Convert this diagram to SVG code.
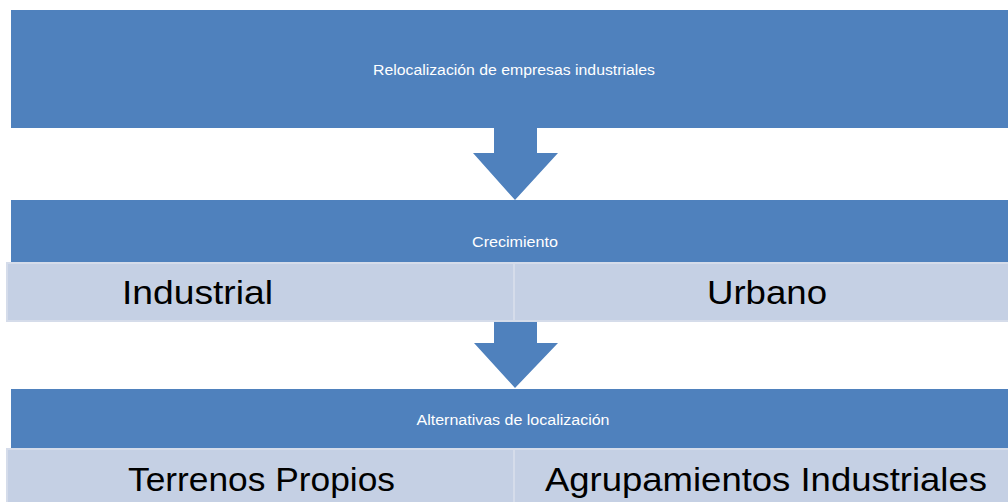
<svg xmlns="http://www.w3.org/2000/svg" width="1008" height="502" viewBox="0 0 1008 502">
<style>
.blue{fill:#4F81BD}
.cell{fill:#C5D0E4;stroke:#D5DCEA;stroke-width:2}
.t{font-family:"Liberation Sans",Arial,sans-serif;fill:#FFFFFF;font-size:14px;text-anchor:middle}
.big{font-family:"Liberation Sans",Arial,sans-serif;fill:#000000;font-size:34px}
</style>
<rect x="0" y="0" width="1008" height="502" fill="#FFFFFF"/>
<g id="relocalizacion">
<rect class="blue" x="11" y="10" width="997" height="118"/>
<text class="t" x="514" y="75" textLength="282" lengthAdjust="spacingAndGlyphs">Relocalización de empresas industriales</text>
</g>
<g id="connectors">
<path class="blue" d="M494 128 H537 V153 H558 L515 200 L473 153 H494 Z"/>
<path class="blue" d="M494 322 H537 V343 H558 L515 388 L474 343 H494 Z"/>
</g>
<g id="crecimiento">
<rect class="blue" x="11" y="200" width="997" height="62"/>
<text class="t" x="515" y="247" textLength="86" lengthAdjust="spacingAndGlyphs">Crecimiento</text>
</g>
<g id="industrial">
<rect class="cell" x="7" y="263" width="507" height="58"/>
<text class="big" x="122" y="304" textLength="151" lengthAdjust="spacingAndGlyphs">Industrial</text>
</g>
<g id="urbano">
<rect class="cell" x="514" y="263" width="496" height="58"/>
<text class="big" x="707" y="304" textLength="120" lengthAdjust="spacingAndGlyphs">Urbano</text>
</g>
<g id="alternativas">
<rect class="blue" x="11" y="389" width="997" height="59"/>
<text class="t" x="513" y="425" textLength="193" lengthAdjust="spacingAndGlyphs">Alternativas de localización</text>
</g>
<g id="terrenos">
<rect class="cell" x="7" y="449" width="507" height="56"/>
<text class="big" x="128" y="491" textLength="267" lengthAdjust="spacingAndGlyphs">Terrenos Propios</text>
</g>
<g id="agrupamientos">
<rect class="cell" x="514" y="449" width="496" height="56"/>
<text class="big" x="545" y="491" textLength="442" lengthAdjust="spacingAndGlyphs">Agrupamientos Industriales</text>
</g>
</svg>
